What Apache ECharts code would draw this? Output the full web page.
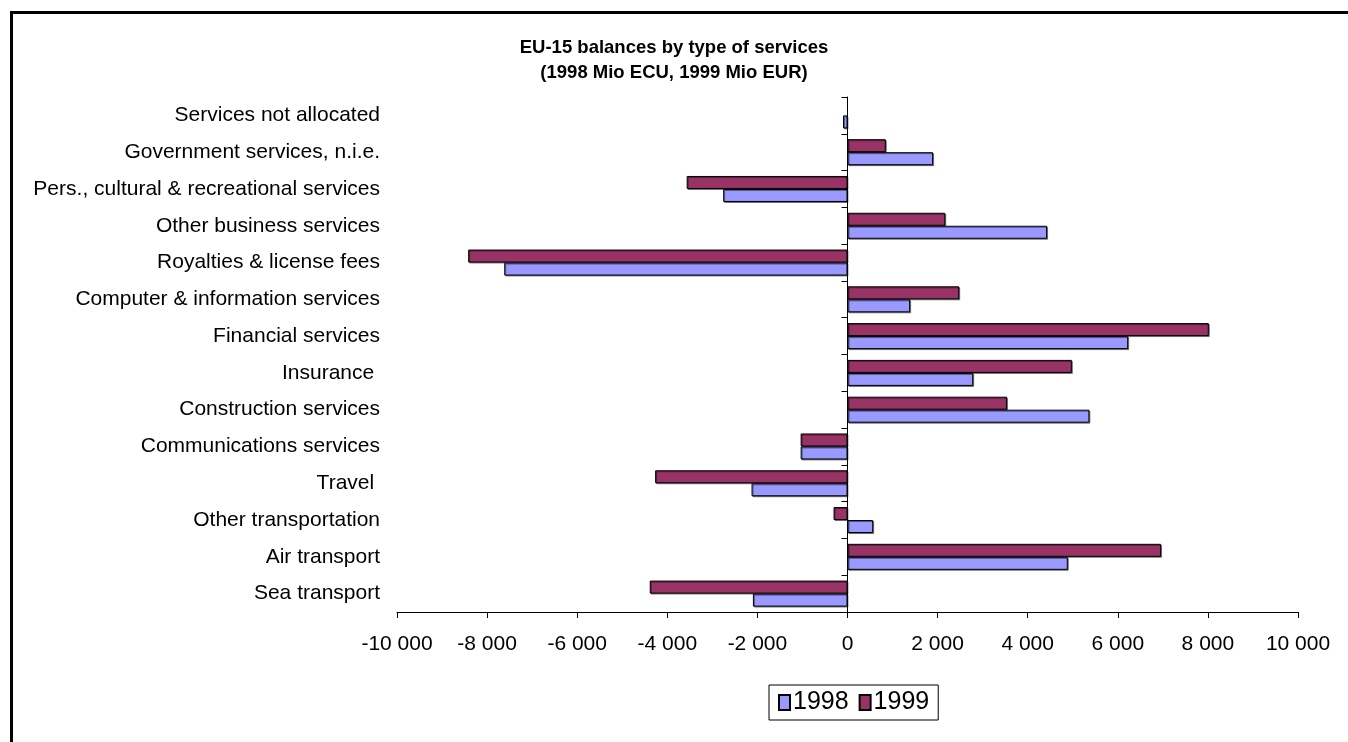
<!DOCTYPE html>
<html>
<head>
<meta charset="utf-8">
<script src="https://cdn.jsdelivr.net/npm/echarts@6/dist/echarts.min.js"></script>
<style>
  html, body { margin: 0; padding: 0; background: #fff; }
  #frame { position: absolute; left: 10px; top: 11px; width: 1400px; height: 800px;
           border-left: 3px solid #000; border-top: 3px solid #000; box-sizing: border-box; }
  #chart { position: absolute; left: 0; top: 0; width: 1348px; height: 742px; }
</style>
</head>
<body>
<div id="frame"></div>
<div id="chart"></div>
<script>
// Categories listed bottom to top
const categories = [
  'Sea transport', 'Air transport', 'Other transportation', 'Travel ',
  'Communications services', 'Construction services', 'Insurance ',
  'Financial services', 'Computer & information services', 'Royalties & license fees',
  'Other business services', 'Pers., cultural & recreational services',
  'Government services, n.i.e.', 'Services not allocated'
];
const values1998 = [-2100, 4890, 570, -2130, -1040, 5370, 2790, 6230, 1390, -7620, 4430, -2760, 1900, -100];
const values1999 = [-4390, 6960, -310, -4270, -1040, 3540, 4980, 8020, 2480, -8420, 2170, -3570, 850, null];
const seriesNames = ['1998', '1999'];
const titleText = 'EU-15 balances by type of services\n(1998 Mio ECU, 1999 Mio EUR)';

const FONT = 'Liberation Sans, Arial, sans-serif';
function fmt(v) {
  const s = Math.abs(v).toString().replace(/\B(?=(\d{3})+(?!\d))/g, ' ');
  return (v < 0 ? '-' : '') + s;
}

const chart = echarts.init(document.getElementById('chart'), null, { renderer: 'canvas' });
chart.setOption({
  animation: false,
  title: {
    text: titleText, left: 'center', top: 30,
    textStyle: { fontFamily: FONT, fontSize: 18.5, fontWeight: 'bold', color: '#000', lineHeight: 25 }
  },
  legend: {
    data: seriesNames, left: 769, top: 685, icon: 'rect',
    borderColor: '#000', borderWidth: 1, padding: [5, 9, 5, 9],
    itemWidth: 11, itemHeight: 15, itemGap: 10,
    textStyle: { fontFamily: FONT, fontSize: 25, color: '#000', padding: [0, 0, 0, -2] }
  },
  grid: { left: 397, right: 50, top: 97, bottom: 130, containLabel: false },
  xAxis: {
    type: 'value', min: -10000, max: 10000, interval: 2000,
    axisLine: { show: true, onZero: false, lineStyle: { color: '#000', width: 1 } },
    axisTick: { show: true, length: 6, lineStyle: { color: '#000' } },
    splitLine: { show: false },
    axisLabel: { formatter: fmt, margin: 22, fontFamily: FONT, fontSize: 21, color: '#000' }
  },
  yAxis: [
    {
      type: 'category', data: categories, position: 'left',
      axisLine: { show: false, onZero: false }, axisTick: { show: false },
      axisLabel: { margin: 17, fontFamily: FONT, fontSize: 21, color: '#000' }
    },
    {
      type: 'category', data: categories, position: 'right',
      axisLine: { show: true, onZero: true, lineStyle: { color: '#000', width: 1 } },
      axisTick: { show: true, inside: true, length: 6, lineStyle: { color: '#000' } },
      axisLabel: { show: false }
    }
  ],
  series: [
    {
      name: seriesNames[1], type: 'bar', yAxisIndex: 0, data: values1999,
      barWidth: 13, barGap: '0%',
      itemStyle: { color: '#993366', borderColor: '#000', borderWidth: 1,
                   shadowColor: 'rgba(0,0,0,0.45)', shadowOffsetX: 1, shadowOffsetY: 1 }
    },
    {
      name: seriesNames[0], type: 'bar', yAxisIndex: 0, data: values1998,
      barWidth: 13, barGap: '0%',
      itemStyle: { color: '#9999FF', borderColor: '#000', borderWidth: 1,
                   shadowColor: 'rgba(0,0,0,0.45)', shadowOffsetX: 1, shadowOffsetY: 1 }
    }
  ]
});
</script>
</body>
</html>
